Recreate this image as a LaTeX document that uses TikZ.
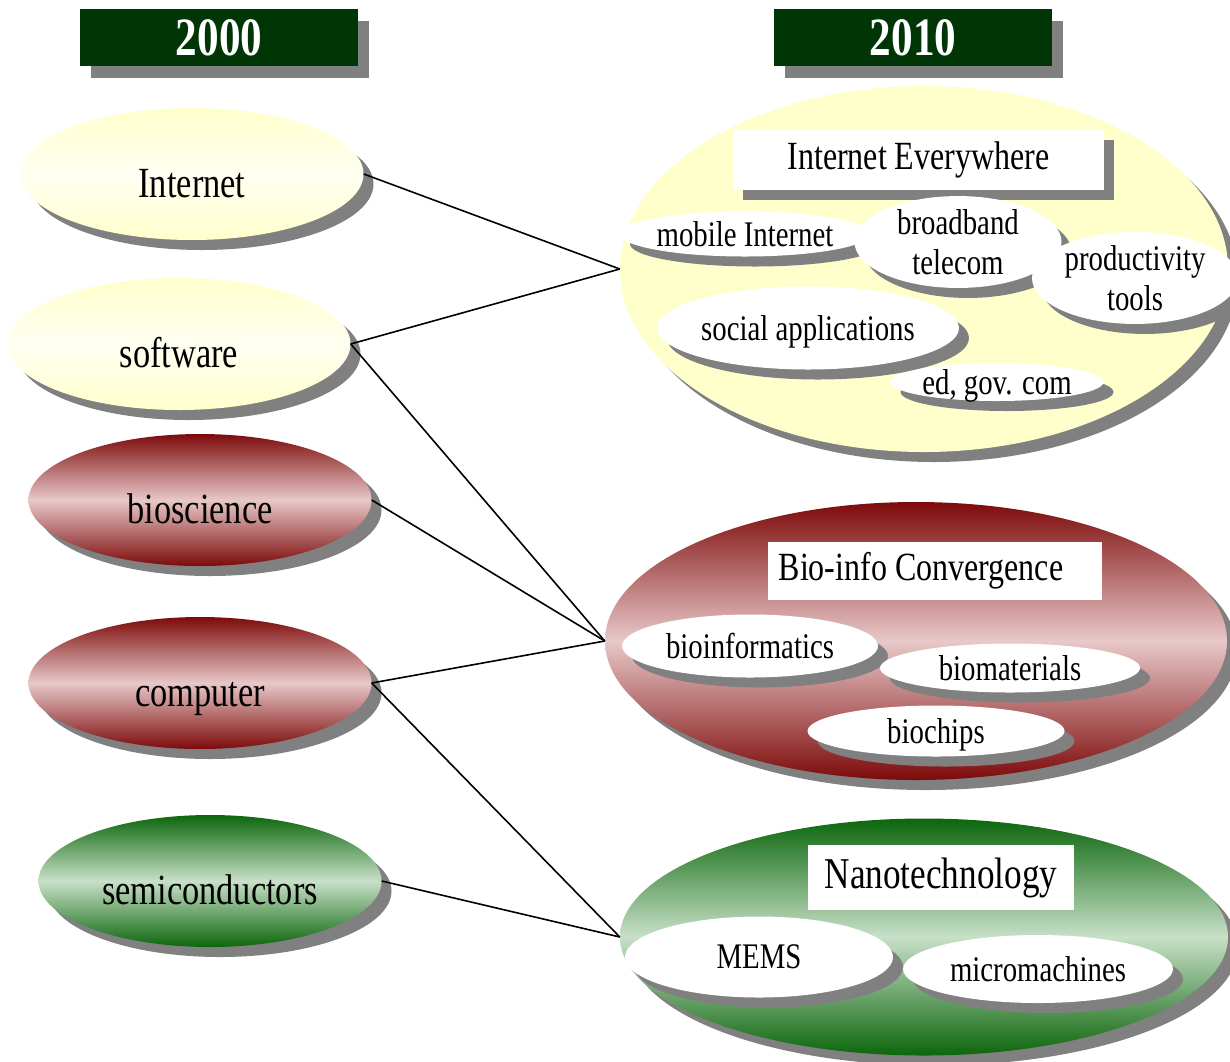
\documentclass[tikz,border=0pt]{standalone}
\usepackage{fontspec}
\setmainfont{Liberation Serif}[FakeStretch=0.8]
\usepackage{tikz}
\usetikzlibrary{shapes.geometric,shadows,positioning}
\definecolor{m_yellow}{HTML}{FFFFCC}
\definecolor{m_red}{HTML}{7D0A0A}
\definecolor{m_pink}{HTML}{E8C8C8}
\definecolor{m_green}{HTML}{0C660C}
\definecolor{m_mint}{HTML}{C8E0C8}
\definecolor{m_dark}{HTML}{003606}
\definecolor{m_shadow}{HTML}{808080}

\begin{document}
\begin{tikzpicture}[
    x=1pt,y=-1pt,
    shadowed/.style={drop shadow={shadow xshift=10pt,shadow yshift=-10pt,fill=m_shadow,opacity=1}},
    year/.style={rectangle,fill=m_dark,text=white,minimum width=278pt,minimum height=57pt,
        font=\bfseries\fontsize{54}{58}\selectfont,
        drop shadow={shadow xshift=11pt,shadow yshift=-12pt,fill=m_shadow,opacity=1}},
    topic/.style={ellipse,inner sep=0pt,minimum width=343pt,minimum height=132pt,
        text height=46pt,text depth=0pt,font=\fontsize{43}{46}\selectfont,shadowed},
    area/.style={ellipse,inner sep=0pt,shadowed},
    sub/.style={ellipse,inner sep=0pt,fill=white,align=center,text depth=0pt,
        font=\fontsize{36}{40}\selectfont,shadowed},
    title/.style={rectangle,fill=white,inner sep=0pt,font=\fontsize{40}{44}\selectfont},
    pale/.style={top color=m_yellow,bottom color=m_yellow,middle color=m_yellow!25!white},
    bio/.style={top color=m_red,bottom color=m_red,middle color=m_pink},
    nano/.style={top color=m_green,bottom color=m_green,middle color=m_mint},
    link/.style={line width=1.6pt}
]
    \useasboundingbox (0,0) rectangle (1230,1061);

    % headers
    \node[year] (y2000) at (219,37.5) {2000};
    \node[year] (y2010) at (913,37.5) {2010};

    % 2000 fields
    \node[topic,pale] (internet) at (192,174) {Internet};
    \node[topic,pale] (software) at (179,344) {software};
    \node[topic,bio] (bioscience) at (200,500) {bioscience};
    \node[topic,bio] (computer) at (200,683) {computer};
    \node[topic,nano] (semi) at (210,881) {semiconductors};

    % 2010 areas
    \node[area,fill=m_yellow,minimum width=608pt,minimum height=366pt] (everywhere) at (924,269) {};
    \node[title,shadowed,minimum width=371pt,minimum height=60pt] (everywhere title) at (918.5,160) {Internet Everywhere};
    \node[sub,minimum width=231pt,minimum height=45pt] (mobile) at (745,234) {mobile Internet};
    \node[sub,minimum width=207pt,minimum height=83pt] (broadband) at (958,242) {broadband\\telecom};
    \node[sub,minimum width=206pt,minimum height=83pt] (productivity) at (1135,278) {productivity\\tools};
    \node[sub,minimum width=273pt,minimum height=83pt] (social) at (808,328) {social applications};
    \node[sub,minimum width=213pt,minimum height=38pt] (edgov) at (997,382) {ed, gov. com};

    \node[area,bio,minimum width=622pt,minimum height=278pt] (convergence) at (916,641) {};
    \node[title,minimum width=334pt,minimum height=58pt] (convergence title) at (935,571) {Bio-info Convergence\kern28pt};
    \node[sub,minimum width=256pt,minimum height=63pt] (bioinformatics) at (750,646) {bioinformatics};
    \node[sub,minimum width=260pt,minimum height=49pt] (biomaterials) at (1010,668) {biomaterials};
    \node[sub,minimum width=257pt,minimum height=51pt] (biochips) at (936,731) {biochips};

    \node[area,nano,minimum width=608pt,minimum height=237pt] (nanotech) at (924,937) {};
    \node[title,minimum width=266pt,minimum height=65pt,font=\fontsize{44}{48}\selectfont] (nanotech title) at (941,877.5) {Nanotechnology};
    \node[sub,minimum width=268pt,minimum height=81pt] (mems) at (759,957) {MEMS};
    \node[sub,minimum width=270pt,minimum height=68pt] (micro) at (1038,969) {micromachines};

    % links
    \draw[link] (internet.east) -- (everywhere.west);
    \draw[link] (software.east) -- (everywhere.west);
    \draw[link] (software.east) -- (convergence.west);
    \draw[link] (bioscience.east) -- (convergence.west);
    \draw[link] (computer.east) -- (convergence.west);
    \draw[link] (computer.east) -- (nanotech.west);
    \draw[link] (semi.east) -- (nanotech.west);
\end{tikzpicture}
\end{document}
